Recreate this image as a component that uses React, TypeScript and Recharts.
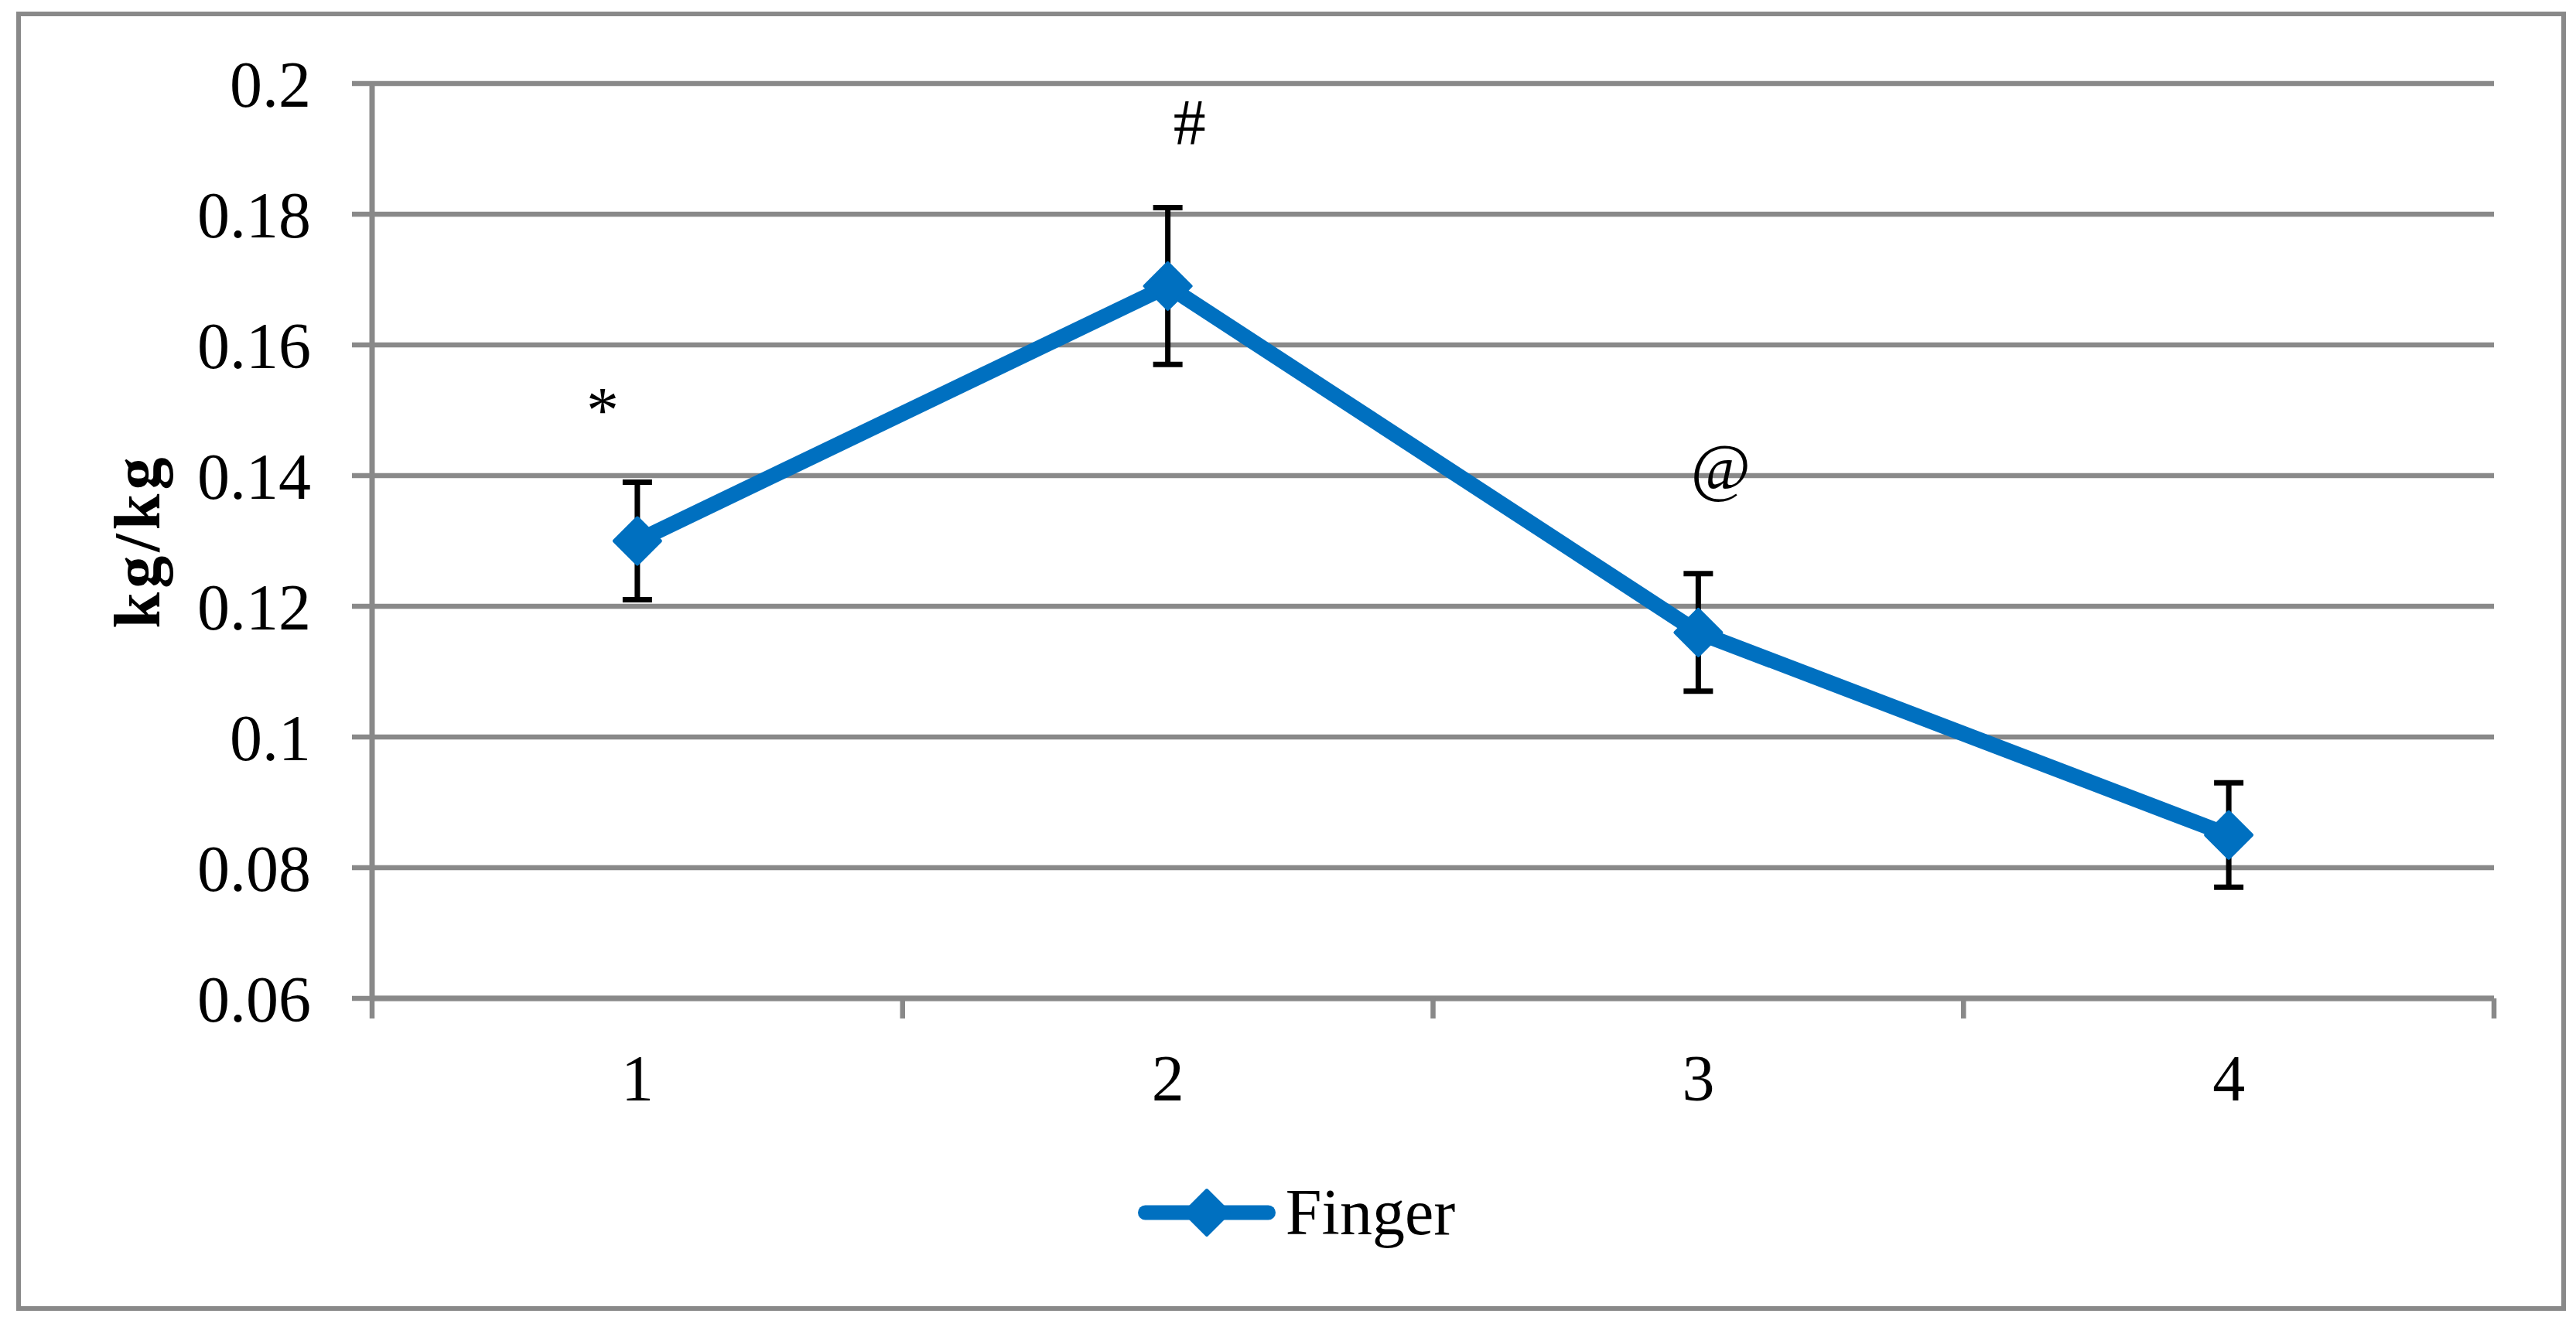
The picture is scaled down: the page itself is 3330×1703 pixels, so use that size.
import React from 'react';
import { LineChart, Line, XAxis, YAxis, CartesianGrid, ErrorBar, LabelList, Legend } from 'recharts';

// values
const trials = [1, 2, 3, 4];
const finger = [0.13, 0.169, 0.116, 0.085];
const fingerErr = [0.009, 0.012, 0.009, 0.008];
const notes = ['*', '#', '@', ''];
const yTicks = [0.06, 0.08, 0.1, 0.12, 0.14, 0.16, 0.18, 0.2];
// integer ticks carry the labels, half ticks are the boundary marks
const xTicks = [0.5, 1, 1.5, 2, 2.5, 3, 3.5, 4, 4.5];

const data = trials.map((t, i) => ({ trial: t, Finger: finger[i], err: fingerErr[i], note: notes[i] }));

const COLORS = {
    line: '#0070c0',
    grid: '#898989',
    text: '#000000',
};
const FONT = '"Liberation Serif", "DejaVu Serif", serif';
const FS = 84;

// where each annotation sits relative to its point
const NOTE_OFFSET = [
    { dx: -45, dy: -141 },
    { dx: 28, dy: -183 },
    { dx: 29, dy: -185 },
    { dx: 0, dy: 0 },
];

const XTick = ({ x, y, payload }: any) => {
    const v = payload.value;
    if (!Number.isInteger(v)) {
        return <line x1={x} y1={y} x2={x} y2={y + 26} stroke={COLORS.grid} strokeWidth={6.5} />;
    }
    return (
        <text x={x} y={y + 132} textAnchor="middle" fontFamily={FONT} fontSize={FS} fill={COLORS.text}>
            {v}
        </text>
    );
};

const Diamond = ({ cx, cy, index }: any) => (
    <polygon
        key={`d-${index}`}
        points={`${cx},${cy - 30} ${cx + 30},${cy} ${cx},${cy + 30} ${cx - 30},${cy}`}
        fill={COLORS.line}
        stroke={COLORS.line}
        strokeWidth={4}
        strokeLinejoin="round"
    />
);

const renderNote = (p: any) => {
    if (!p.value) return null;
    const o = NOTE_OFFSET[p.index];
    return (
        <text x={p.x + o.dx} y={p.y + o.dy} textAnchor="middle" fontFamily={FONT} fontSize={FS} fill={COLORS.text}>
            {p.value}
        </text>
    );
};

const YLabel = ({ viewBox }: any) => {
    const cy = viewBox.y + viewBox.height / 2;
    const x = 206;
    return (
        <text
            x={x}
            y={cy}
            transform={`rotate(-90 ${x} ${cy})`}
            textAnchor="middle"
            fontFamily={FONT}
            fontSize={FS}
            fontWeight="bold"
            letterSpacing={5}
            fill={COLORS.text}
        >
            kg/kg
        </text>
    );
};

const renderLegend = ({ payload }: any) => (
    <div style={{ display: 'flex', justifyContent: 'center', alignItems: 'center', height: 80 }}>
        {(payload || []).map((p: any) => (
            <div key={p.value} style={{ display: 'flex', alignItems: 'center' }}>
                <svg width={178} height={80}>
                    <line x1={9.5} y1={40} x2={168.5} y2={40} stroke={COLORS.line} strokeWidth={19} strokeLinecap="round" />
                    <polygon points="89,11 118,40 89,69 60,40" fill={COLORS.line} stroke={COLORS.line} strokeWidth={4} strokeLinejoin="round" />
                </svg>
                <span style={{ marginLeft: 13, fontFamily: FONT, fontSize: FS, lineHeight: '80px', color: COLORS.text }}>
                    {p.value}
                </span>
            </div>
        ))}
    </div>
);

export default function App() {
    return (
        <div style={{ position: 'absolute', left: 0, top: 0, width: 3330, height: 1703, background: '#fff', fontFamily: FONT }}>
            <div
                style={{
                    position: 'absolute',
                    left: 21,
                    top: 15,
                    width: 3296,
                    height: 1680,
                    boxSizing: 'border-box',
                    border: `6px solid ${COLORS.grid}`,
                }}
            />
            <div style={{ position: 'absolute', left: 0, top: 0 }}>
                <LineChart width={3330} height={1703} data={data} margin={{ top: 108, right: 106, bottom: 95, left: 0 }}>
                    <CartesianGrid vertical={false} stroke={COLORS.grid} strokeWidth={6.5} />
                    <XAxis
                        dataKey="trial"
                        type="number"
                        domain={[0.5, 4.5]}
                        ticks={xTicks}
                        interval={0}
                        height={237}
                        tickSize={0}
                        tickMargin={0}
                        tickLine={false}
                        axisLine={{ stroke: COLORS.grid, strokeWidth: 7 }}
                        tick={<XTick />}
                    />
                    <YAxis
                        type="number"
                        domain={[0.06, 0.2]}
                        ticks={yTicks}
                        interval={0}
                        width={481}
                        tickSize={26}
                        tickMargin={53}
                        axisLine={{ stroke: COLORS.grid, strokeWidth: 7 }}
                        tickLine={{ stroke: COLORS.grid, strokeWidth: 6.5 }}
                        tick={{ fontFamily: FONT, fontSize: FS, fill: COLORS.text }}
                        label={<YLabel />}
                    />
                    <Legend
                        verticalAlign="bottom"
                        content={renderLegend}
                        wrapperStyle={{ left: 22, width: 3308 }}
                    />
                    <Line
                        type="linear"
                        dataKey="Finger"
                        name="Finger"
                        stroke={COLORS.line}
                        strokeWidth={20}
                        strokeLinejoin="round"
                        dot={Diamond}
                        activeDot={false}
                        isAnimationActive={false}
                    >
                        <ErrorBar dataKey="err" direction="y" width={19} stroke={COLORS.text} strokeWidth={7} />
                        <LabelList dataKey="note" content={renderNote} />
                    </Line>
                </LineChart>
            </div>
        </div>
    );
}
